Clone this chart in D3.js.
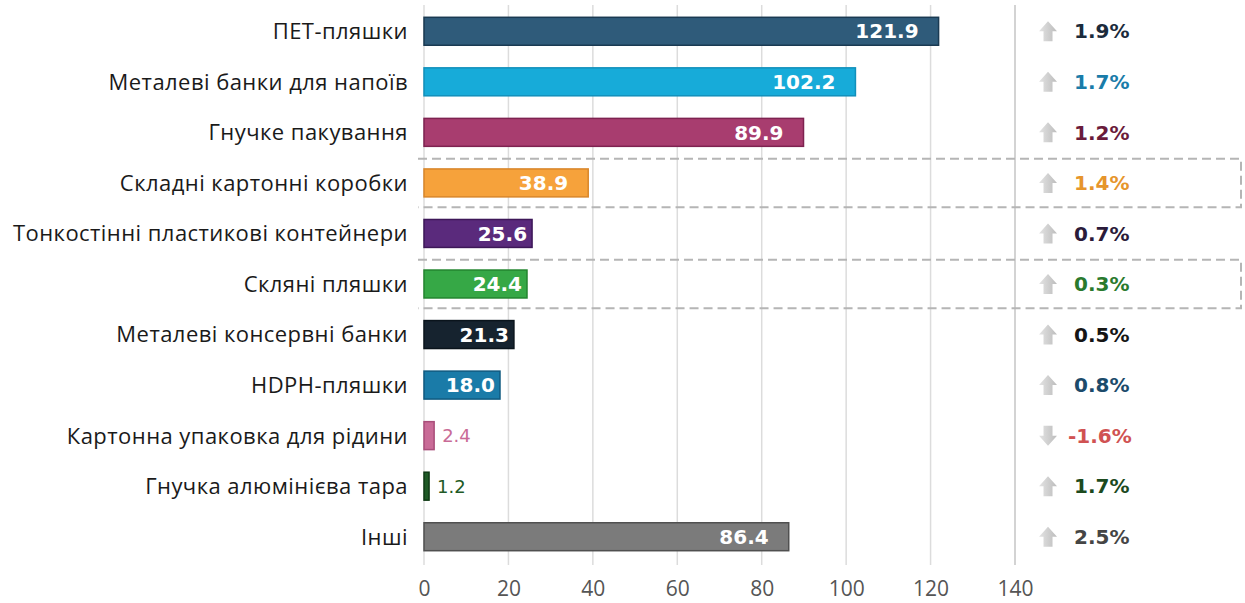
<!DOCTYPE html>
<html>
<head>
<meta charset="utf-8">
<script src="https://cdn.jsdelivr.net/npm/d3@7"></script>
<style>
  html, body { margin: 0; padding: 0; background: #fff; }
  svg { display: block; }
</style>
</head>
<body>
<svg id="chart" width="1245" height="603"></svg>
<script>
const categories = [
  "ПЕТ-пляшки",
  "Металеві банки для напоїв",
  "Гнучке пакування",
  "Складні картонні коробки",
  "Тонкостінні пластикові контейнери",
  "Скляні пляшки",
  "Металеві консервні банки",
  "HDPH-пляшки",
  "Картонна упаковка для рідини",
  "Гнучка алюмінієва тара",
  "Інші"
];
const values = [121.9, 102.2, 89.9, 38.9, 25.6, 24.4, 21.3, 18.0, 2.4, 1.2, 86.4];
const growth = [1.9, 1.7, 1.2, 1.4, 0.7, 0.3, 0.5, 0.8, -1.6, 1.7, 2.5];
const barColors = ["#2f5b7a", "#17abd9", "#a83d6f", "#f6a23b", "#5a2a7c", "#36a846", "#16232f", "#1a7ba8", "#c96b97", "#1f5a26", "#7b7b7b"];
const barStrokes = ["#1a3a52", "#1190bb", "#7e2250", "#d9862a", "#3d1758", "#23852f", "#0a141c", "#0f5a80", "#a94e7a", "#0f3a14", "#505050"];
const growthColors = ["#1b2b3c", "#1a7ca9", "#6a1b3b", "#e6952c", "#2b1b3a", "#2a7a2e", "#151515", "#1c4b6b", "#d05252", "#1c4a1e", "#454545"];
const highlighted = ["Складні картонні коробки", "Скляні пляшки"];
const xTicks = [0, 20, 40, 60, 80, 100, 120, 140];

const svg = d3.select("#chart");

const x = d3.scaleLinear().domain([0, 140]).range([424, 1015]);
const y = d3.scaleBand().domain(categories).range([6, 562]).paddingInner(0.447).paddingOuter(0.2235);
const step = y.step();

// gridlines
svg.append("g").selectAll("line").data(xTicks).join("line")
  .attr("x1", d => x(d)).attr("x2", d => x(d))
  .attr("y1", 5).attr("y2", 565)
  .attr("stroke", d => d === 140 ? "#c4c4c4" : "#dcdcdc")
  .attr("stroke-width", 1.5);

// x axis labels
const xAxis = d3.axisBottom(x).tickValues(xTicks).tickSize(0).tickPadding(0);
const gx = svg.append("g").attr("transform", "translate(0,581)").call(xAxis);
gx.select(".domain").remove();
gx.selectAll("text")
  .attr("font-family", "'Open Sans', sans-serif")
  .attr("font-size", 21)
  .attr("fill", "#555")
  .attr("dy", "0.71em");

// dashed highlight boxes
highlighted.forEach(c => {
  const top = y(c) + y.bandwidth() / 2 - step / 2 + 1;
  const bot = y(c) + y.bandwidth() / 2 + step / 2 - 1;
  const g = svg.append("g").attr("stroke", "#b5b5b5").attr("stroke-width", 2)
    .attr("stroke-dasharray", "9,5").attr("fill", "none");
  g.append("path").attr("d", `M418,${top} H1241 V${bot} H418`);
});

// bars
svg.append("g").selectAll("rect").data(values).join("rect")
  .attr("x", x(0))
  .attr("y", (d, i) => y(categories[i]))
  .attr("width", d => x(d) - x(0))
  .attr("height", y.bandwidth())
  .attr("fill", (d, i) => barColors[i])
  .attr("stroke", (d, i) => barStrokes[i])
  .attr("stroke-width", 1.5);

// value labels
svg.append("g").selectAll("text").data(values).join("text")
  .attr("x", d => d < 5 ? x(d) + 8 : x(d) - (d > 30 ? 20 : 5))
  .attr("y", (d, i) => y(categories[i]) + y.bandwidth() / 2)
  .attr("dy", "0.36em")
  .attr("text-anchor", d => d < 5 ? "start" : "end")
  .attr("font-family", "'DejaVu Sans', Verdana, sans-serif")
  .attr("font-weight", d => d < 5 ? "normal" : "bold")
  .attr("font-size", d => d < 5 ? 18 : 20)
  .attr("fill", (d, i) => d < 5 ? barColors[i] : "#fff")
  .text(d => d.toFixed(1));

// category labels
svg.append("g").selectAll("text").data(categories).join("text")
  .attr("x", 408)
  .attr("y", d => y(d) + y.bandwidth() / 2)
  .attr("dy", "0.36em")
  .attr("text-anchor", "end")
  .attr("font-family", "'Open Sans', sans-serif")
  .attr("font-size", 22)
  .attr("letter-spacing", 0.45)
  .attr("fill", "#1a1a1a")
  .text(d => d);

// arrows
const defs = svg.append("defs");
const grad = defs.append("linearGradient").attr("id", "ag").attr("x1", 0).attr("x2", 1).attr("y1", 0).attr("y2", 0);
grad.append("stop").attr("offset", "0%").attr("stop-color", "#e4e4e4");
grad.append("stop").attr("offset", "100%").attr("stop-color", "#bcbcbc");

function arrowPath(cx, cy, up) {
  const s = up ? 1 : -1;
  const hw = 9, sw = 4.5, h = 10;
  return `M${cx},${cy - s * h} L${cx + hw},${cy - s * 0} L${cx + sw},${cy - s * 0} L${cx + sw},${cy + s * h} L${cx - sw},${cy + s * h} L${cx - sw},${cy - s * 0} L${cx - hw},${cy - s * 0} Z`;
}
svg.append("g").selectAll("path").data(growth).join("path")
  .attr("d", (d, i) => arrowPath(1048, y(categories[i]) + y.bandwidth() / 2, d >= 0))
  .attr("fill", "url(#ag)");

// growth labels
svg.append("g").selectAll("text").data(growth).join("text")
  .attr("x", d => d < 0 ? 1068 : 1074)
  .attr("y", (d, i) => y(categories[i]) + y.bandwidth() / 2)
  .attr("dy", "0.36em")
  .attr("font-family", "'DejaVu Sans', Verdana, sans-serif")
  .attr("font-weight", "bold")
  .attr("font-size", 20)
  .attr("fill", (d, i) => growthColors[i])
  .text(d => d.toFixed(1) + "%");
</script>
</body>
</html>
